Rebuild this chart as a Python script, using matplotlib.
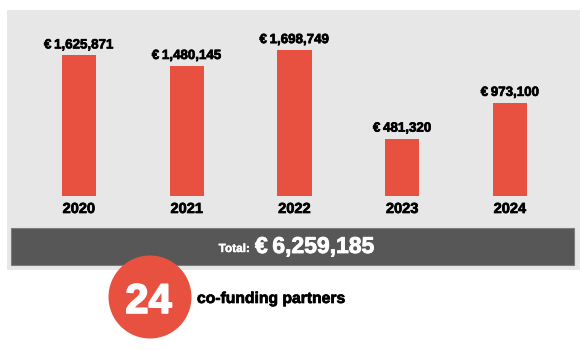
import numpy as np
import matplotlib
matplotlib.use("Agg")
import matplotlib.pyplot as plt
from matplotlib.patches import Rectangle, Circle
import matplotlib.patheffects as pe

# ---- data ----
years = ["2020", "2021", "2022", "2023", "2024"]
amounts = [1625871, 1480145, 1698749, 481320, 973100]
total_amount = 6259185
partners = 24
partners_label = "co-funding partners"

RED = "#E8503F"
PANEL = "#E7E7E7"
DARK = "#575757"
FONT = "Liberation Sans"

W, H = 588, 350
fig = plt.figure(figsize=(W / 100, H / 100), dpi=100)
fig.patch.set_facecolor("white")

def thick(c, lw=0.6):
    return [pe.withStroke(linewidth=lw, foreground=c)]

# background axes in pixel coordinates
bg = fig.add_axes([0, 0, 1, 1], zorder=0)
bg.set_xlim(0, W); bg.set_ylim(H, 0); bg.axis("off")
bg.add_patch(Rectangle((6.5, 9.5), 573, 260.5, facecolor=PANEL, edgecolor="none"))

# bar axes: baseline at pixel y=196, top at y=10
px_per_unit = 72.7e-6
base = 0.308e6
ax_left_px, ax_right_px = 25.1, 563.9
ax_bottom_px, ax_top_px = 196, 10
ax = fig.add_axes([ax_left_px / W, (H - ax_bottom_px) / H,
                   (ax_right_px - ax_left_px) / W, (ax_bottom_px - ax_top_px) / H], zorder=1)
ax.set_facecolor("none")
ax.axis("off")
x = np.arange(len(years))
vals = np.array(amounts, dtype=float)
ax.bar(x, vals + base, bottom=-base, width=0.316, color=RED, edgecolor="none")
ax.set_xlim(-0.5, len(years) - 0.5)
ax.set_ylim(-base, -base + (ax_bottom_px - ax_top_px) / px_per_unit)

for xi, v, yr in zip(x, amounts, years):
    ax.annotate(f"€\u2009{v:,}", xy=(xi, v), xytext=(0, 7), textcoords="offset pixels",
                ha="center", va="baseline", fontsize=9.6, fontweight="bold",
                family=FONT, color="black", path_effects=thick("black", 0.5),
                annotation_clip=False)
    ax.annotate(yr, xy=(xi, -base), xytext=(0, -17), textcoords="offset pixels",
                ha="center", va="baseline", fontsize=10.5, fontweight="bold",
                family=FONT, color="black", path_effects=thick("black", 0.5),
                annotation_clip=False)

# foreground axes in pixel coordinates
fg = fig.add_axes([0, 0, 1, 1], zorder=2)
fg.set_facecolor("none")
fg.set_xlim(0, W); fg.set_ylim(H, 0); fg.axis("off")
fg.add_patch(Rectangle((10.7, 228), 563.3, 37, facecolor=DARK, edgecolor="#7c7c7c", linewidth=0.8))

t1 = fg.text(250, 252, "Total:", ha="right", va="baseline", fontsize=8.5, fontweight="bold",
             family=FONT, color="white", path_effects=thick("white", 0.3))
fg.text(255, 253, f"€\u2009{total_amount:,}", ha="left", va="baseline", fontsize=16.5,
        fontweight="bold", family=FONT, color="white", path_effects=thick("white", 0.6))

fg.add_patch(Circle((150, 297), 41.5, facecolor=RED, edgecolor="none", zorder=3))
fg.text(148.5, 313, f"{partners}", ha="center", va="baseline", fontsize=30, fontweight="bold",
        family=FONT, color="white", zorder=4, path_effects=thick("white", 1.2))
fg.text(197, 303, partners_label, ha="left", va="baseline", fontsize=11.3, fontweight="bold",
        family=FONT, color="black", path_effects=thick("black", 0.5))

fig.savefig("out.png", dpi=100, facecolor="white")
